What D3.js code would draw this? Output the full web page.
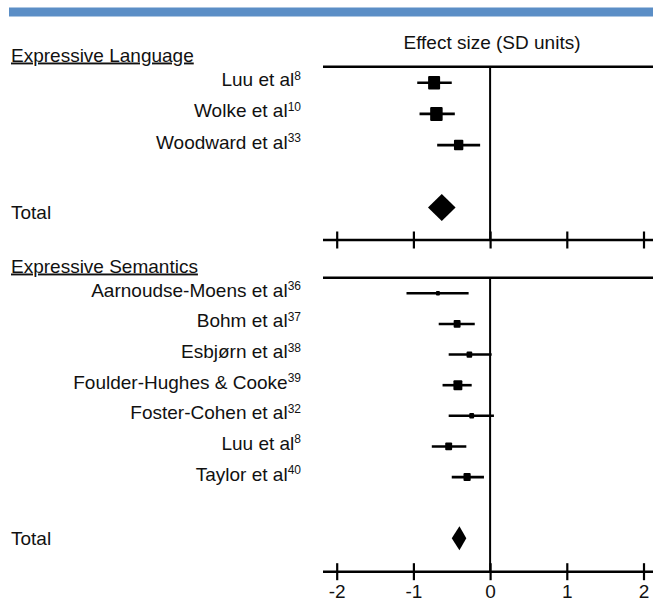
<!DOCTYPE html>
<html>
<head>
<meta charset="utf-8">
<script src="https://cdn.jsdelivr.net/npm/d3@7"></script>
<style>
  html, body { margin: 0; padding: 0; background: #fff; }
  svg { display: block; }
  text { font-family: "Liberation Sans", Arial, sans-serif; fill: #111; }
</style>
</head>
<body>
<svg id="chart" width="653" height="604"></svg>
<script>
// ---------- Data ----------
const tickValues = [-2, -1, 0, 1, 2];
const tickLabels = ["-2", "-1", "0", "1", "2"];

const langStudies = ["Luu et al", "Wolke et al", "Woodward et al"];
const langRefs    = ["8", "10", "33"];
const langEst     = [-0.73, -0.70, -0.41];
const langLow     = [-0.95, -0.92, -0.69];
const langHigh    = [-0.50, -0.46, -0.13];
const langWeight  = [36, 39, 22];
const langTotal   = [-0.81, -0.63, -0.45]; // low, est, high

const semStudies = ["Aarnoudse-Moens et al", "Bohm et al", "Esbjørn et al",
                    "Foulder-Hughes & Cooke", "Foster-Cohen et al", "Luu et al", "Taylor et al"];
const semRefs    = ["36", "37", "38", "39", "32", "8", "40"];
const semEst     = [-0.68, -0.43, -0.27, -0.42, -0.24, -0.54, -0.30];
const semLow     = [-1.09, -0.67, -0.54, -0.62, -0.54, -0.76, -0.50];
const semHigh    = [-0.28, -0.20, 0.02, -0.24, 0.05, -0.31, -0.08];
const semWeight  = [4, 12, 8, 20, 6, 12, 13];
const semTotal   = [-0.50, -0.40, -0.31];

// ---------- Layout ----------
const svg = d3.select("#chart");
const x = d3.scaleLinear().domain([-2, 2]).range([336.7, 643.5]);
const size = d3.scaleSqrt().domain([0, 36]).range([0, 12]);
const lineLeft = 323, lineRight = 653;

svg.append("rect").attr("x", 9).attr("y", 7.5).attr("width", 644).attr("height", 9)
  .attr("fill", "#5b8ec6");

svg.append("text").attr("x", 492).attr("y", 48.5).attr("text-anchor", "middle")
  .style("font-size", "19px").text("Effect size (SD units)");

function panel(cfg) {
  const g = svg.append("g");
  const n = cfg.studies.length;
  const y = d3.scalePoint().domain(d3.range(cfg.totalIndex + 1))
    .range([cfg.firstY, cfg.firstY + cfg.step * cfg.totalIndex]);

  // header
  g.append("text").attr("x", 11).attr("y", cfg.headerY)
    .style("font-size", "19px").style("text-decoration", "underline")
    .text(cfg.header);

  // top line
  g.append("line").attr("x1", lineLeft).attr("x2", lineRight)
    .attr("y1", cfg.topY).attr("y2", cfg.topY)
    .attr("stroke", "#000").attr("stroke-width", 2.6);

  // zero line
  g.append("line").attr("x1", x(0)).attr("x2", x(0))
    .attr("y1", cfg.topY).attr("y2", cfg.axisY)
    .attr("stroke", "#000").attr("stroke-width", 2);

  // axis
  g.append("line").attr("x1", lineLeft).attr("x2", lineRight)
    .attr("y1", cfg.axisY).attr("y2", cfg.axisY)
    .attr("stroke", "#000").attr("stroke-width", 2.6);
  const axis = d3.axisBottom(x).tickValues(tickValues)
    .tickFormat((d, i) => cfg.showLabels ? tickLabels[i] : "")
    .tickSize(8.5).tickPadding(4);
  const ag = g.append("g").attr("transform", `translate(0,${cfg.axisY})`).call(axis);
  ag.select(".domain").remove();
  ag.selectAll(".tick line").attr("y1", -8.5).attr("y2", 8.5)
    .attr("stroke", "#000").attr("stroke-width", 2.2);
  ag.selectAll(".tick text").style("font-size", "19px").style("font-family", "'Liberation Sans', Arial, sans-serif")
    .attr("fill", "#111");

  const rows = d3.range(n);
  // labels
  const lab = g.selectAll(".lab").data(rows).join("text")
    .attr("x", 301).attr("y", i => y(i) + 3.5).attr("text-anchor", "end")
    .style("font-size", "19px");
  lab.append("tspan").text(i => cfg.studies[i]);
  lab.append("tspan").attr("dy", -6.5).style("font-size", "12px").text(i => cfg.refs[i]);

  // error bars
  g.selectAll(".ci").data(rows).join("line")
    .attr("x1", i => x(cfg.low[i])).attr("x2", i => x(cfg.high[i]))
    .attr("y1", i => y(i)).attr("y2", i => y(i))
    .attr("stroke", "#000").attr("stroke-width", 2.6);
  // markers
  g.selectAll(".pt").data(rows).join("rect")
    .attr("x", i => x(cfg.est[i]) - size(cfg.weight[i]) / 2)
    .attr("y", i => y(i) - size(cfg.weight[i]) * 0.56)
    .attr("width", i => size(cfg.weight[i]))
    .attr("height", i => size(cfg.weight[i]) * 1.12)
    .attr("rx", 1).attr("fill", "#000");

  // total
  const ty = y(cfg.totalIndex);
  g.append("text").attr("x", 11).attr("y", ty + cfg.totalLabelDy)
    .style("font-size", "19px").text("Total");
  const t = cfg.total;
  g.append("path")
    .attr("d", `M${x(t[0])},${ty} L${x(t[1])},${ty - cfg.diamondH / 2} L${x(t[2])},${ty} L${x(t[1])},${ty + cfg.diamondH / 2} Z`)
    .attr("fill", "#000");
}

panel({
  header: "Expressive Language", headerY: 61.5, topY: 66.7, axisY: 240,
  studies: langStudies, refs: langRefs, est: langEst, low: langLow, high: langHigh,
  weight: langWeight, total: langTotal, totalIndex: 4, firstY: 82.7, step: 31.2,
  diamondH: 27, totalLabelDy: 11.5, showLabels: false
});

panel({
  header: "Expressive Semantics", headerY: 272.5, topY: 277.7, axisY: 571.7,
  studies: semStudies, refs: semRefs, est: semEst, low: semLow, high: semHigh,
  weight: semWeight, total: semTotal, totalIndex: 8, firstY: 293.3, step: 30.63,
  diamondH: 24, totalLabelDy: 7, showLabels: true
});
</script>
</body>
</html>
